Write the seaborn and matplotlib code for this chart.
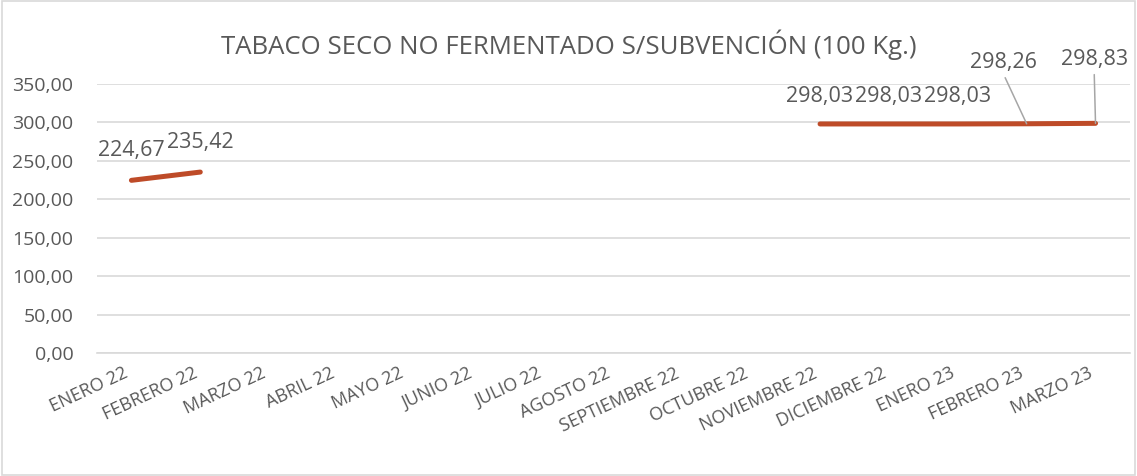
import numpy as np
import pandas as pd
import matplotlib
matplotlib.use("Agg")
import matplotlib.pyplot as plt
import matplotlib.transforms as mtransforms
import seaborn as sns

categories = ["ENERO 22", "FEBRERO 22", "MARZO 22", "ABRIL 22", "MAYO 22", "JUNIO 22",
              "JULIO 22", "AGOSTO 22", "SEPTIEMBRE 22", "OCTUBRE 22", "NOVIEMBRE 22",
              "DICIEMBRE 22", "ENERO 23", "FEBRERO 23", "MARZO 23"]
values = [224.67, 235.42, np.nan, np.nan, np.nan, np.nan, np.nan, np.nan, np.nan,
          np.nan, 298.03, 298.03, 298.03, 298.26, 298.83]
yticks = [0, 50, 100, 150, 200, 250, 300, 350]
title = "TABACO SECO NO FERMENTADO S/SUBVENCIÓN (100 Kg.)"

sns.set_theme(style="white")
plt.rcParams['font.family'] = ['Open Sans', 'DejaVu Sans']

TXT = "#595959"
LINE = "#BE4B28"

df = pd.DataFrame({"x": np.arange(len(categories)), "y": values})
# segment ids so gaps are not connected
df["seg"] = df["y"].isna().cumsum()
df = df.dropna()

fig = plt.figure(figsize=(11.37, 4.76), dpi=100)
ax = fig.add_axes([0.0853, 0.2584, 0.9085, 0.5651])

sns.lineplot(data=df, x="x", y="y", units="seg", estimator=None, color=LINE,
             linewidth=3.6, solid_capstyle="round", ax=ax, legend=False)

ax.set_xlim(-0.5, len(categories) - 0.5)
ax.set_ylim(0, 350)
ax.set_yticks(yticks)
ax.set_yticklabels([f"{v:.2f}".replace(".", ",") for v in yticks], color=TXT, fontsize=14)
ax.set_xticks(np.arange(len(categories)))
ax.set_xticklabels(categories, rotation=25, ha="right", rotation_mode="anchor",
                   color=TXT, fontsize=13)
ax.tick_params(axis="x", length=0, pad=8)
ax.tick_params(axis="y", length=0, pad=17)
shift = mtransforms.ScaledTranslation(-8 / 100, 0, fig.dpi_scale_trans)
for lab in ax.get_xticklabels():
    lab.set_transform(lab.get_transform() + shift)
ax.grid(axis="y", color="#D9D9D9", linewidth=1.2)
ax.set_axisbelow(True)
for s in ["left", "right", "top"]:
    ax.spines[s].set_visible(False)
ax.spines["bottom"].set_color("#D9D9D9")
ax.spines["bottom"].set_linewidth(1.2)
ax.set_xlabel("")
ax.set_ylabel("")

fmt = lambda v: f"{v:.2f}".replace(".", ",")
# data label offsets (points)
offsets = {0: (0, 21.5), 1: (0, 21.5), 10: (0, 19.5), 11: (0, 19.5), 12: (0, 19.5),
           13: (-17, 44), 14: (-1, 46)}
for i, v in enumerate(values):
    if np.isnan(v):
        continue
    dx, dy = offsets[i]
    if i in (13, 14):
        ax.annotate(fmt(v), xy=(i, v), xytext=(dx, dy), textcoords="offset points",
                    ha="center", va="center", color=TXT, fontsize=15.5,
                    arrowprops=dict(arrowstyle="-", color="#A6A6A6", lw=1.1,
                                    shrinkA=1, shrinkB=0, relpos=(0.5, 0.0)))
    else:
        ax.annotate(fmt(v), xy=(i, v), xytext=(dx, dy), textcoords="offset points",
                    ha="center", va="center", color=TXT, fontsize=15.5)

fig.text(0.5, 0.905, title, ha="center", va="center", color=TXT, fontsize=18.5)

border = plt.Rectangle((0.002, 0.003), 0.996, 0.994, transform=fig.transFigure,
                       fill=False, edgecolor="#D9D9D9", linewidth=1.2)
fig.patches.append(border)

fig.savefig("out.png", dpi=100)
